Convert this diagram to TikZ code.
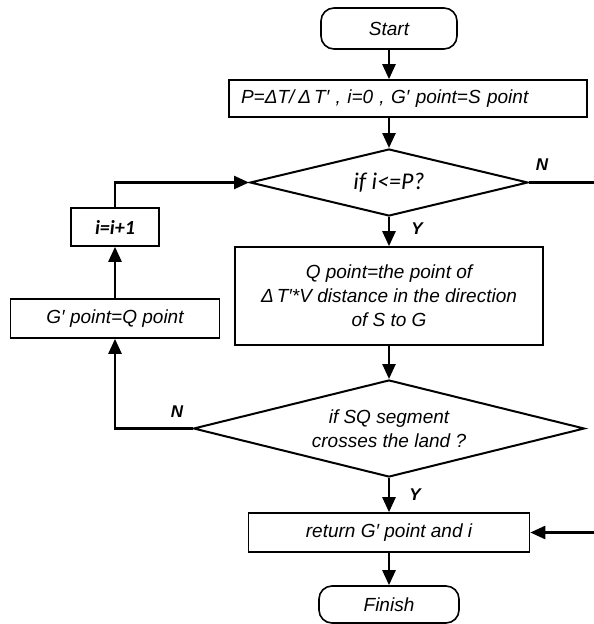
\documentclass[tikz,border=0pt]{standalone}
\usepackage{fontspec}
\setmainfont{Liberation Sans}
\newfontfamily\calfont{Carlito}
\usetikzlibrary{shapes.geometric,arrows.meta}
\tikzset{
  txt/.style={font=\itshape\fontsize{19}{24}\selectfont},
  term/.style={draw, rounded corners=13pt, line width=1.6pt, inner sep=0pt, txt},
  proc/.style={draw, rectangle, line width=1.6pt, inner sep=0pt, txt},
  dec/.style={draw, diamond, shape aspect=4, line width=2pt, inner sep=0pt, txt},
  conn/.style={line width=2.5pt, -{Triangle[length=15pt,width=13pt]}},
  plain/.style={line width=2.5pt},
  lab/.style={font=\bfseries\itshape\fontsize{17}{20}\selectfont}
}
\begin{document}
\begin{tikzpicture}[x=1pt,y=-1pt]
\useasboundingbox (0,0) rectangle (594,624);
\node[term, minimum width=136pt, minimum height=41pt] (start) at (389,28.5) {Start};
\node[proc, minimum width=358pt, minimum height=37pt, text width=334pt, inner xsep=12pt, align=left] (init) at (408,98.5) {P=ΔT/\hspace{4pt}Δ\hspace{3pt}T′ , i=0 , G′ point=S point};
\node[dec, minimum width=278pt, minimum height=67pt, font=\calfont\itshape\fontsize{24}{26}\selectfont] (d1) at (389,182.5) {if i<=P?};
\node[proc, minimum width=88pt, minimum height=38pt, font=\calfont\bfseries\itshape\fontsize{20}{24}\selectfont] (inc) at (115,227) {i=i+1};
\node[proc, minimum width=308pt, minimum height=98pt, align=center] (q) at (389,296) {Q point=the point of\\Δ\hspace{3pt}T′*V distance in the direction\\of S to G};
\node[proc, minimum width=209pt, minimum height=39pt] (gp) at (115,318.5) {G′ point=Q point};
\node[dec, minimum width=391pt, minimum height=97pt, align=center] (d2) at (389,428.5) {if SQ segment\\crosses the land ?};
\node[proc, minimum width=281pt, minimum height=39pt] (ret) at (389,532.5) {return G′ point and i};
\node[term, minimum width=140pt, minimum height=37pt] (fin) at (389,604.5) {Finish};
\coordinate (e1) at (594,182.5);
\coordinate (e2) at (594,532.5);
\draw[conn] (start.south) -- (start.south |- init.north);
\draw[conn] (d1.north |- init.south) -- (d1.north);
\draw[conn] (d1.south) -- (q.north);
\draw[plain] (d1.east) -- (e1);
\draw[conn] (q.south) -- (d2.north);
\draw[conn] (d2.south) -- (ret.north);
\draw[conn] (ret.south) -- (fin.north);
\draw[conn] (e2) -- (ret.east);
\draw[conn] (d2.west) -| (gp.south);
\draw[conn] (gp.north) -- (inc.south);
\draw[conn] (inc.north) |- (d1.west);
\node[lab] (n1) at (542,165) {N};
\node[lab] (y1) at (417,229) {Y};
\node[lab] (n2) at (177,412) {N};
\node[lab] (y2) at (415,495) {Y};
\end{tikzpicture}
\end{document}
